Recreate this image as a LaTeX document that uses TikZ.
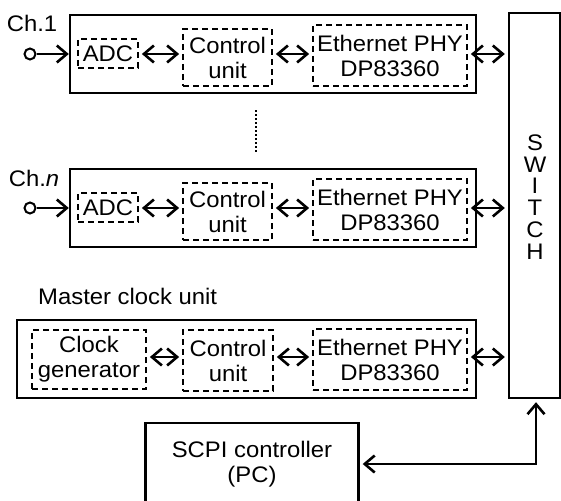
\documentclass[tikz,border=0pt]{standalone}
\usepackage{fontspec}
\setmainfont{Liberation Sans}[FakeStretch=1.06]
\usetikzlibrary{arrows.meta}
\begin{document}
\begin{tikzpicture}[x=1pt,y=-1pt,
  every node/.style={inner sep=0pt},
  font=\fontsize{22.5}{25}\selectfont,
  solidbox/.style={draw, line width=2.4pt, rectangle, inner sep=0pt, align=center},
  dashbox/.style={draw, line width=1.8pt, dash pattern=on 6pt off 4pt, rectangle, inner sep=0pt, align=center},
  tipA/.tip={Straight Barb[length=10pt,width=17pt,line width=2.6pt]},
  dbl/.style={line width=2.4pt, {tipA}-{tipA}, shorten <=3pt, shorten >=3pt},
  sgl/.style={line width=2.4pt, -{tipA}},
  inport/.style={circle, draw, line width=2pt, minimum size=11pt, inner sep=0pt, fill=white},
]
\useasboundingbox (0,0) rectangle (561,500);
\clip (0,0) rectangle (561,500);

% Channel 1
\node[solidbox, minimum width=406pt, minimum height=78pt] (ch1) at (273,54) {};
\node[dashbox, minimum width=60pt, minimum height=29pt] (adc1) at (108,53.5) {ADC};
\node[dashbox, minimum width=89pt, minimum height=57pt] (ctrl1) at (227.5,57.5) {Control\\unit};
\node[dashbox, minimum width=154pt, minimum height=61pt] (eth1) at (390,55.5) {Ethernet PHY\\DP83360};
\node (lab1) at (32,23) {Ch.1};
\node[inport] (in1) at (30,54) {};

% Channel n
\node[solidbox, minimum width=406pt, minimum height=78pt] (chn) at (273,208) {};
\node[dashbox, minimum width=60pt, minimum height=29pt] (adcn) at (108,207.5) {ADC};
\node[dashbox, minimum width=89pt, minimum height=57pt] (ctrln) at (227.5,211.5) {Control\\unit};
\node[dashbox, minimum width=154pt, minimum height=61pt] (ethn) at (390,209.5) {Ethernet PHY\\DP83360};
\node (labn) at (34,178) {Ch.\textit{n}};
\node[inport] (inn) at (30,208) {};

% Master clock unit
\node[anchor=west] (mlab) at (38,296) {Master clock unit};
\node[solidbox, minimum width=459pt, minimum height=78pt] (mbox) at (246.5,359) {};
\node[dashbox, minimum width=114pt, minimum height=59pt] (clk) at (89,359.5) {Clock\\generator};
\node[dashbox, minimum width=90pt, minimum height=61pt] (ctrlm) at (228,360.5) {Control\\unit};
\node[dashbox, minimum width=154pt, minimum height=61pt] (ethm) at (390,359.5) {Ethernet PHY\\DP83360};

% Switch
\node[solidbox, minimum width=51pt, minimum height=385pt] (sw) at (534.5,205.5) {};
\node[align=center, font=\fontsize{22.5}{21.8}\selectfont] (swtext) at (535,197) {S\\W\\I\\T\\C\\H};

% SCPI controller
\node[solidbox, minimum width=213pt, minimum height=82pt] (scpi) at (252,464) {SCPI controller\\(PC)};

% dotted continuation
\coordinate (d1) at (256,110);
\coordinate (d2) at (256,153);
\draw[line width=2.2pt, dash pattern=on 2.2pt off 1.8pt] (d1) -- (d2);

% connectors
\draw[sgl] (in1) -- (ch1.west);
\draw[dbl] (adc1.east |- ch1) -- (ctrl1.west |- ch1);
\draw[dbl] (ctrl1.east |- ch1) -- (eth1.west |- ch1);
\draw[dbl] (eth1.east |- ch1) -- (sw.west |- ch1);

\draw[sgl] (inn) -- (chn.west);
\draw[dbl] (adcn.east |- chn) -- (ctrln.west |- chn);
\draw[dbl] (ctrln.east |- chn) -- (ethn.west |- chn);
\draw[dbl] (ethn.east |- chn) -- (sw.west |- chn);

\draw[dbl] ([yshift=2pt]clk.east |- mbox) -- ([yshift=2pt]ctrlm.west |- mbox);
\draw[dbl] ([yshift=2pt]ctrlm.east |- mbox) -- ([yshift=2pt]ethm.west |- mbox);
\draw[dbl] ([yshift=2pt]ethm.east |- mbox) -- ([yshift=2pt]sw.west |- mbox);

\draw[dbl] (scpi.east) -| ([xshift=1.5pt]sw.south);
\end{tikzpicture}
\end{document}
